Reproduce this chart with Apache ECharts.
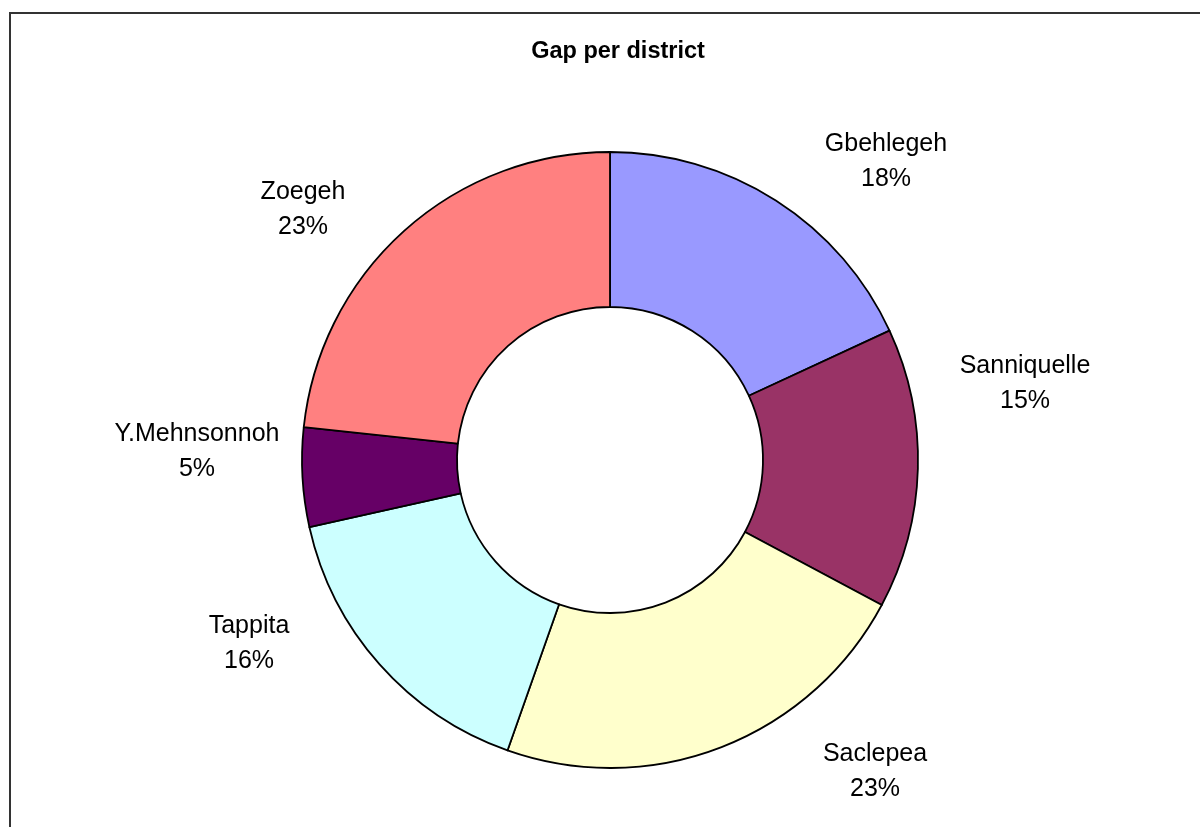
<!DOCTYPE html>
<html>
<head>
<meta charset="utf-8">
<title>Gap per district</title>
<script src="https://cdn.jsdelivr.net/npm/echarts@6/dist/echarts.min.js"></script>
<style>
  html, body { margin: 0; padding: 0; background: #fff; }
  #main { width: 1200px; height: 827px; }
</style>
</head>
<body>
<div id="main"></div>
<script>
// 各区数据 (顺时针, 从12点开始)
var districts = ['Gbehlegeh', 'Sanniquelle', 'Saclepea', 'Tappita', 'Y.Mehnsonnoh', 'Zoegeh'];
var gapShare = [18.1, 14.7, 22.6, 16.1, 5.2, 23.3];
var sliceColors = ['#9999FF', '#993366', '#FFFFCC', '#CCFFFF', '#660066', '#FF8080'];
// 标签中心位置 (Excel 式摆放)
var labelSpots = [[886, 162], [1025, 384], [875, 772], [249, 644], [197, 452], [303, 210]];

var myChart = echarts.init(document.getElementById('main'));

var pieData = districts.map(function (name, i) {
  return { name: name, value: gapShare[i], itemStyle: { color: sliceColors[i] } };
});

var option = {
  animation: false,
  backgroundColor: '#fff',
  title: {
    text: 'Gap per district',
    left: 613,
    top: 35,
    textAlign: 'center',
    textStyle: {
      fontFamily: 'Liberation Sans, Arial, sans-serif',
      fontSize: 23.5,
      fontWeight: 'bold',
      color: '#000'
    }
  },
  graphic: [{
    type: 'rect',
    shape: { x: 10, y: 13, width: 1300, height: 900 },
    style: { fill: 'none', stroke: '#333', lineWidth: 2 },
    silent: true
  }],
  series: [{
    type: 'pie',
    center: [610, 460],
    radius: [153, 308],
    startAngle: 90,
    clockwise: true,
    avoidLabelOverlap: false,
    itemStyle: {
      borderColor: '#000',
      borderWidth: 1.8
    },
    label: {
      show: true,
      position: 'outside',
      formatter: function (p) {
        return p.name + '\n' + Math.round(p.percent) + '%';
      },
      fontFamily: 'Liberation Sans, Arial, sans-serif',
      fontSize: 25,
      lineHeight: 35,
      color: '#000',
      align: 'center'
    },
    labelLine: { show: false },
    labelLayout: function (params) {
      var s = labelSpots[params.dataIndex];
      return { x: s[0], y: s[1], align: 'center', verticalAlign: 'middle' };
    },
    emphasis: { disabled: true },
    data: pieData
  }]
};

myChart.setOption(option);
</script>
</body>
</html>
